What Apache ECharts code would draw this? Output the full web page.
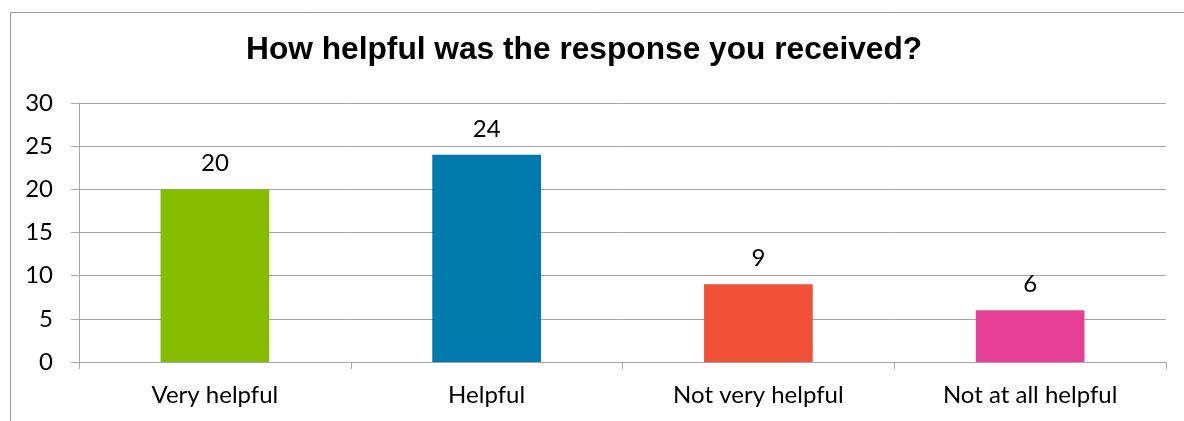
<!DOCTYPE html>
<html>
<head>
<meta charset="utf-8">
<style>
  html, body { margin: 0; padding: 0; background: #ffffff; }
  #chart { width: 1184px; height: 421px; }
</style>
<script src="https://cdn.jsdelivr.net/npm/echarts@6/dist/echarts.min.js"></script>
</head>
<body>
<div id="chart"></div>
<script>
// Survey answers and their response counts
const categories = ['Very helpful', 'Helpful', 'Not very helpful', 'Not at all helpful'];
const counts = [20, 24, 9, 6];
const barColors = ['#84BD00', '#0079AD', '#F15137', '#E63F96'];
const titleText = 'How helpful was the response you received?';

const labelFont = 'Lato, "Open Sans", sans-serif';

const chart = echarts.init(document.getElementById('chart'), null, { renderer: 'canvas' });

chart.setOption({
  animation: false,
  backgroundColor: '#ffffff',
  title: {
    text: titleText,
    left: 241,
    top: 29,
    textStyle: {
      fontFamily: 'Arial, "Liberation Sans", sans-serif',
      fontWeight: 'bold',
      fontSize: 31.7,
      color: '#000000'
    }
  },
  graphic: [{
    type: 'rect',
    silent: true,
    shape: { x: 10.5, y: 12.5, width: 1300, height: 600 },
    style: { fill: 'none', stroke: '#9a9a9a', lineWidth: 1 }
  }],
  grid: { left: 79, right: 18, top: 103, bottom: 59, containLabel: false },
  xAxis: {
    type: 'category',
    data: categories,
    axisLine: { show: true, lineStyle: { color: '#a6a6a6', width: 1 } },
    axisTick: { show: true, length: 7, alignWithLabel: false, lineStyle: { color: '#a6a6a6' } },
    axisLabel: { margin: 21, fontFamily: labelFont, fontSize: 24, color: '#000000' },
    splitLine: { show: false }
  },
  yAxis: {
    type: 'value',
    min: 0,
    max: 30,
    interval: 5,
    axisLine: { show: true, lineStyle: { color: '#a6a6a6', width: 1 } },
    axisTick: { show: true, length: 8, lineStyle: { color: '#a6a6a6' } },
    axisLabel: { margin: 26, fontFamily: labelFont, fontSize: 24, color: '#000000' },
    splitLine: { show: true, lineStyle: { color: '#a6a6a6', width: 1 } }
  },
  series: [{
    type: 'bar',
    barWidth: '40%',
    data: counts.map((v, i) => ({ value: v, itemStyle: { color: barColors[i] } })),
    label: {
      show: true,
      position: 'top',
      distance: 14,
      fontFamily: labelFont,
      fontSize: 24,
      color: '#000000'
    }
  }]
});
</script>
</body>
</html>
